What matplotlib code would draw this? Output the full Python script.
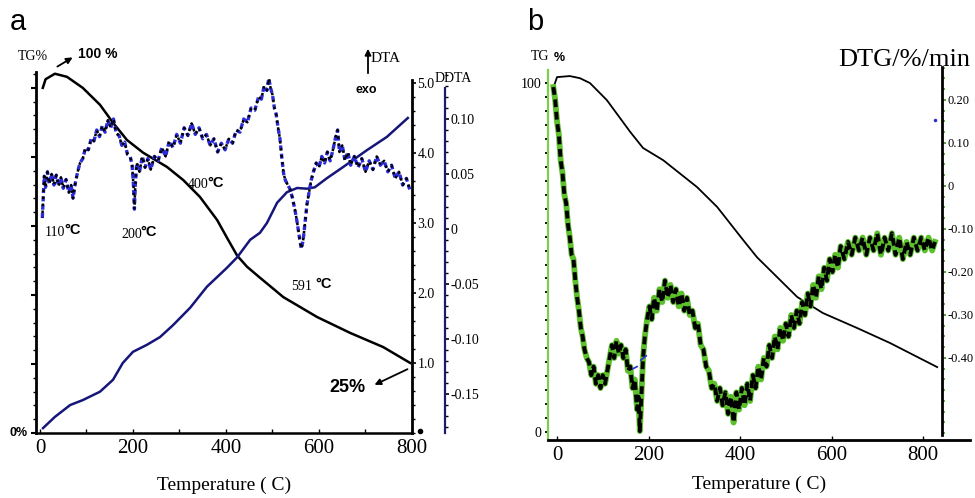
import numpy as np
import matplotlib.pyplot as plt
from matplotlib.ticker import MultipleLocator, FixedLocator, FuncFormatter

plt.rcParams['font.family'] = 'serif'
plt.rcParams['font.serif'] = ['Liberation Serif', 'DejaVu Serif']
SANS = 'Liberation Sans'

# ---------------- panel a data ----------------
tg_a_T = [6, 12, 32, 58, 92, 129, 157, 187, 222, 273, 308, 344, 381, 402, 424,
          445, 473, 499, 523, 596, 667, 738, 796]
tg_a_v = [100, 102.5, 104.1, 103.2, 100, 95.1, 89.9, 84.9, 81.2, 77.1, 73.3, 68.4,
          61.7, 56.6, 51.4, 48.2, 45.0, 42.1, 39.4, 33.6, 29.0, 24.9, 20.3]

dta_T = [6.5, 32, 65, 92, 129, 157, 178, 200, 230, 258, 286, 323, 359, 402, 424,
         452, 473, 488, 510, 531, 553, 574, 591, 617, 652, 703, 746, 791]
dta_v = [0.07, 0.23, 0.40, 0.47, 0.59, 0.76, 1.00, 1.16, 1.26, 1.37, 1.54, 1.79,
         2.09, 2.36, 2.51, 2.76, 2.86, 3.00, 3.29, 3.44, 3.50, 3.49, 3.51, 3.64,
         3.80, 4.04, 4.23, 4.50]

ddta_T = [5, 7, 9, 12, 16, 20, 25, 30, 35, 40, 45, 50, 56, 62, 67, 71, 76, 81, 86,
          92, 98, 104, 110, 116, 122, 128, 134, 140, 146, 152, 158, 164, 170, 176,
          182, 188, 194, 198, 201, 203, 205, 208, 214, 220, 226, 232, 238, 246, 254,
          262, 270, 278, 286, 294, 302, 310, 318, 326, 334, 342, 350, 358, 366, 374,
          382, 390, 398, 406, 414, 422, 430, 438, 446, 454, 462, 470, 476, 482, 488,
          492, 496, 500, 504, 508, 512, 516, 520, 524, 528, 533, 538, 543, 548, 553,
          558, 562, 566, 570, 574, 578, 583, 588, 594, 600, 606, 612, 618, 624, 630,
          636, 640, 644, 650, 656, 662, 668, 676, 684, 692, 700, 708, 716, 724, 732,
          740, 748, 756, 764, 772, 780, 788, 795]
ddta_v = [0.010, 0.030, 0.048, 0.038, 0.052, 0.041, 0.050, 0.040, 0.049, 0.039,
          0.047, 0.037, 0.045, 0.033, 0.040, 0.028, 0.042, 0.052, 0.060, 0.064,
          0.074, 0.072, 0.082, 0.080, 0.090, 0.084, 0.094, 0.088, 0.099, 0.092,
          0.100, 0.087, 0.085, 0.076, 0.079, 0.068, 0.066, 0.058, 0.040, 0.018,
          0.040, 0.060, 0.052, 0.066, 0.056, 0.064, 0.054, 0.066, 0.062, 0.074,
          0.066, 0.080, 0.074, 0.086, 0.078, 0.092, 0.085, 0.096, 0.086, 0.092,
          0.082, 0.086, 0.076, 0.082, 0.070, 0.078, 0.072, 0.082, 0.078, 0.090,
          0.088, 0.100, 0.097, 0.110, 0.108, 0.120, 0.118, 0.130, 0.126, 0.137,
          0.128, 0.122, 0.110, 0.104, 0.092, 0.082, 0.065, 0.050, 0.044, 0.040,
          0.036, 0.028, 0.018, 0.006, -0.008, -0.018, -0.010, 0.006, 0.022, 0.032,
          0.044, 0.052, 0.060, 0.056, 0.066, 0.060, 0.070, 0.062, 0.072, 0.084,
          0.090, 0.070, 0.076, 0.062, 0.070, 0.058, 0.066, 0.056, 0.064, 0.052,
          0.062, 0.054, 0.066, 0.058, 0.062, 0.052, 0.058, 0.046, 0.052, 0.040,
          0.046, 0.036]

# ---------------- panel b data ----------------
tg_b_T = [-8, 0, 28, 50, 72, 109, 160, 188, 232, 306, 350, 407, 437, 481, 525,
          581, 656, 728, 831]
tg_b_v = [98.6, 101.7, 102.0, 101.4, 100, 95.1, 86.0, 81.4, 77.9, 70.2, 64.5, 55.0,
          50.1, 44.4, 38.7, 34.1, 29.8, 25.5, 18.6]

dtg_T = [-8, -4, 0, 4, 8, 12, 16, 20, 24, 28, 32, 36, 40, 44, 48, 52, 56, 60, 65,
         70, 75, 80, 85, 90, 95, 100, 105, 110, 115, 120, 125, 130, 135, 140, 145,
         150, 155, 160, 165, 170, 175, 178, 181, 184, 188, 192, 197, 202, 207, 212,
         218, 224, 230, 236, 242, 248, 254, 260, 266, 272, 278, 284, 290, 296, 302,
         308, 314, 320, 326, 332, 338, 344, 350, 356, 362, 368, 374, 380, 386, 392,
         398, 404, 410, 416, 422, 428, 434, 440, 446, 452, 458, 464, 470, 476, 482,
         488, 494, 500, 506, 512, 518, 524, 530, 536, 542, 548, 554, 560, 566, 572,
         578, 584, 590, 596, 602, 608, 614, 620, 628, 636, 644, 652, 660, 668, 676,
         684, 692, 700, 708, 716, 724, 732, 740, 748, 756, 764, 772, 780, 788, 796,
         804, 812, 820, 826]
dtg_v = [0.23, 0.20, 0.15, 0.12, 0.06, 0.03, -0.02, -0.04, -0.09, -0.12, -0.16,
         -0.17, -0.22, -0.26, -0.29, -0.33, -0.35, -0.38, -0.40, -0.41, -0.44, -0.42,
         -0.46, -0.44, -0.47, -0.44, -0.46, -0.43, -0.40, -0.37, -0.40, -0.36, -0.39,
         -0.37, -0.40, -0.38, -0.43, -0.42, -0.47, -0.45, -0.52, -0.49, -0.57, -0.50,
         -0.40, -0.35, -0.31, -0.28, -0.31, -0.26, -0.29, -0.24, -0.27, -0.22, -0.26,
         -0.23, -0.27, -0.24, -0.28, -0.25, -0.29, -0.26, -0.30, -0.29, -0.33, -0.32,
         -0.37, -0.38, -0.42, -0.43, -0.47, -0.46, -0.50, -0.47, -0.51, -0.48, -0.53,
         -0.49, -0.55, -0.48, -0.52, -0.47, -0.51, -0.46, -0.50, -0.44, -0.47, -0.42,
         -0.45, -0.40, -0.42, -0.37, -0.40, -0.35, -0.38, -0.33, -0.36, -0.32, -0.35,
         -0.30, -0.33, -0.29, -0.32, -0.27, -0.30, -0.25, -0.28, -0.23, -0.26, -0.21,
         -0.24, -0.19, -0.22, -0.17, -0.20, -0.16, -0.19, -0.14, -0.17, -0.13, -0.16,
         -0.12, -0.15, -0.12, -0.16, -0.12, -0.15, -0.11, -0.16, -0.12, -0.15, -0.11,
         -0.16, -0.12, -0.17, -0.13, -0.16, -0.12, -0.15, -0.12, -0.15, -0.12, -0.15,
         -0.13]

x_ticks = [0, 200, 400, 600, 800]

W, H = 975, 498
fig = plt.figure(figsize=(W / 100, H / 100), dpi=100)


def box(l, t, r, b):
    return [l / W, 1 - b / H, (r - l) / W, (b - t) / H]


def ftext(x, y, s, **kw):
    kw.setdefault('va', 'center')
    kw.setdefault('ha', 'left')
    fig.text(x / W, 1 - y / H, s, **kw)


def farrow(x0, y0, x1, y1, lw=1.3):
    fig.add_artist(plt.matplotlib.patches.FancyArrowPatch(
        (x0 / W, 1 - y0 / H), (x1 / W, 1 - y1 / H), transform=fig.transFigure,
        arrowstyle='-|>', mutation_scale=9, lw=lw, color='black'))


# ================= panel a =================
ax = fig.add_axes(box(36, 72, 412, 433))
ax.set_xlim(-8.6, 800)
ax.set_ylim(0, 104.6)
ax.plot(tg_a_T, tg_a_v, color='black', lw=1.8)
ax.spines['top'].set_visible(False)
ax.spines['right'].set_visible(False)
ax.spines['left'].set_linewidth(2)
ax.spines['bottom'].set_linewidth(1.8)
ax.set_xticks(x_ticks)
ax.xaxis.set_minor_locator(MultipleLocator(100))
ax.tick_params(axis='x', which='both', direction='in', length=3, width=1,
               labelsize=15, pad=4)
ax.yaxis.set_major_locator(MultipleLocator(20))
ax.yaxis.set_minor_locator(MultipleLocator(4))
ax.tick_params(axis='y', which='major', direction='out', length=3.5, width=1.5,
               labelleft=False)
ax.tick_params(axis='y', which='minor', direction='out', length=2, width=1)
ax.set_xlabel('Temperature ( C)', fontsize=14, labelpad=14)

ax_dta = ax.twinx()
ax_dta.set_ylim(0, 5.157)
ax_dta.plot(dta_T, dta_v, color='#16167a', lw=1.8)
ax_dta.plot([817], [0.03], 'o', color='black', ms=3, clip_on=False)
for s in ['top', 'left', 'bottom']:
    ax_dta.spines[s].set_visible(False)
ax_dta.spines['right'].set_linewidth(2)
ax_dta.spines['right'].set_bounds(0, 5.04)
ax_dta.set_yticks([1, 2, 3, 4, 5])
ax_dta.set_yticklabels(['1.0', '2.0', '3.0', '4.0', '5.0'])
ax_dta.yaxis.set_minor_locator(MultipleLocator(0.2))
ax_dta.tick_params(axis='y', which='major', direction='out', length=3, width=1.2,
                   labelsize=10, pad=1)
ax_dta.tick_params(axis='y', which='minor', direction='out', length=2, width=1)

ax_dd = ax.twinx()
ax_dd.spines['right'].set_position(('axes', 1.0878))
ax_dd.set_ylim(-0.18545, 0.14273)
ax_dd.plot(ddta_T, ddta_v, color='#2b2bd6', lw=2.4, ls=(0, (1.5, 1)))
ax_dd.plot(ddta_T, ddta_v, color='black', lw=1.8, ls=(0.8, (1, 1.8)))
for s in ['top', 'left', 'bottom']:
    ax_dd.spines[s].set_visible(False)
ax_dd.spines['right'].set_linewidth(1.6)
ax_dd.spines['right'].set_color('#1c1c6e')
ax_dd.spines['right'].set_bounds(-0.1855, 0.128)
dd_ticks = [-0.15, -0.10, -0.05, 0, 0.05, 0.10]
ax_dd.set_yticks(dd_ticks)
ax_dd.set_yticklabels(['-0.15', '-0.10', '-0.05', '0', '0.05', '0.10'])
ax_dd.yaxis.set_minor_locator(MultipleLocator(0.01))
ax_dd.tick_params(axis='y', which='major', direction='out', length=3, width=1.2,
                  labelsize=10, pad=1)
ax_dd.tick_params(axis='y', which='minor', direction='out', length=2, width=1)

# panel a annotations
ftext(10, 22, 'a', family=SANS, fontsize=21)
ftext(18, 56, 'TG%', fontsize=10)
farrow(55, 68, 75, 56)
ftext(78, 54, '100 %', family=SANS, fontsize=10, fontweight='bold')
farrow(368, 76, 368, 46)
ftext(371, 58, 'DTA', fontsize=11)
ftext(356, 90, 'exo', family=SANS, fontsize=9, fontweight='bold')
ftext(435, 78, 'DDTA', fontsize=10)
for num, x, y, gap in [('110', 45, 232, 19), ('200', 121, 234, 19),
                       ('400', 188, 185, 19), ('591', 291, 286, 24)]:
    ftext(x, y, num, fontsize=10)
    ftext(x + gap, y - 2, '\u00b0C', family=SANS, fontsize=10.5, fontweight='bold')
farrow(410, 368, 372, 386)
ftext(329, 387, '25%', family=SANS, fontsize=13, fontweight='bold')
ftext(10, 433, '0%', family=SANS, fontsize=9, fontweight='bold')

# ================= panel b =================
bx = fig.add_axes(box(548, 67, 970, 440))
bx.set_xlim(-19.7, 902.7)
bx.set_ylim(-2.29, 104.6)
bx.plot(tg_b_T, tg_b_v, color='black', lw=1.3)
bx.spines['top'].set_visible(False)
bx.spines['right'].set_visible(False)
bx.spines['left'].set_linewidth(1.6)
bx.spines['left'].set_color('#7ccf4a')
bx.spines['left'].set_bounds(-2.29, 103.7)
bx.spines['bottom'].set_linewidth(2)
bx.set_xticks(x_ticks)
bx.tick_params(axis='x', which='both', direction='in', length=3, width=1,
               labelsize=15, pad=4)
bx.yaxis.set_major_locator(FixedLocator(list(range(0, 101, 4))))
bx.yaxis.set_major_formatter(FuncFormatter(lambda v, p: '%d' % v if v in (0, 100) else ''))
bx.tick_params(axis='y', direction='out', length=2.5, width=1.3, color='black',
               labelsize=10, pad=2)
bx.set_xlabel('Temperature ( C)', fontsize=14, labelpad=8)

bx_dtg = bx.twinx()
bx_dtg.set_ylim(-0.5907, 0.2767)
bx_dtg.plot(dtg_T, dtg_v, color='#5cbf2c', lw=4.2)
bx_dtg.plot(dtg_T, dtg_v, color='black', lw=2.8, ls=(0, (2, 1.2)))
bx_dtg.plot([166, 175], [-0.425, -0.42], color='#2b2bd6', lw=1.2)
bx_dtg.plot([183, 195], [-0.405, -0.395], color='#2b2bd6', lw=1.2)
bx_dtg.plot([826], [0.153], '.', color='#2b2bd6', ms=3)
for s in ['top', 'left', 'bottom']:
    bx_dtg.spines[s].set_visible(False)
bx_dtg.spines['right'].set_position(('axes', 0.9336))
bx_dtg.spines['right'].set_linewidth(2)
bx_dtg.spines['right'].set_bounds(-0.579, 0.2767)
dtg_ticks = [-0.40, -0.30, -0.20, -0.10, 0, 0.10, 0.20]
bx_dtg.set_yticks(dtg_ticks)
bx_dtg.set_yticklabels(['-0.40', '-0.30', '-0.20', '-0.10', '0', '0.10', '0.20'])
bx_dtg.yaxis.set_minor_locator(MultipleLocator(0.025))
bx_dtg.tick_params(axis='y', which='major', direction='out', length=3, width=1.2,
                   labelsize=9, pad=1, color='#3c8c1c')
bx_dtg.tick_params(axis='y', which='minor', direction='out', length=2, width=1.2,
                   color='#4aa020')

ftext(527, 22, 'b', family=SANS, fontsize=21)
ftext(531, 57, 'TG', fontsize=10)
ftext(554, 58, '%', family=SANS, fontsize=9, fontweight='bold')
ftext(838, 60, 'DTG/%/min', fontsize=19)

fig.savefig('out.png', dpi=100)
